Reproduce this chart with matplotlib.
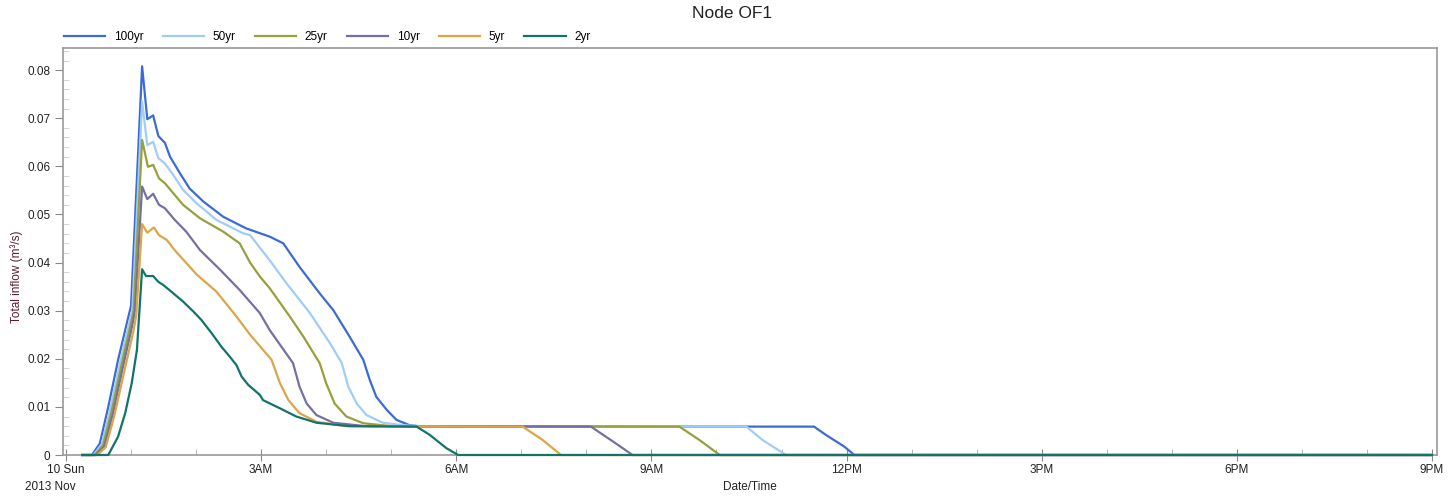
import matplotlib.pyplot as plt
from matplotlib.ticker import MultipleLocator, FuncFormatter

plt.rcParams['font.family'] = ['Liberation Sans', 'DejaVu Sans']

# hours after midnight 10 Nov 2013 -> total inflow (m3/s)
t_100 = [0.25, 0.40, 0.52, 0.65, 0.80, 0.96, 1.00, 1.17, 1.25, 1.34, 1.42, 1.52, 1.60, 1.75, 1.90,
         2.11, 2.42, 2.77, 3.13, 3.34, 3.59, 3.90, 4.11, 4.36, 4.57, 4.67, 4.77, 4.93, 5.08, 5.28,
         5.50, 11.50, 11.68, 11.97, 12.12, 21.0]
q_100 = [0, 0, 0.0024, 0.0100, 0.0197, 0.0288, 0.0310, 0.0808, 0.0698, 0.0706, 0.0663, 0.0649, 0.0620,
         0.0586, 0.0554, 0.0527, 0.0495, 0.0471, 0.0454, 0.0440, 0.0391, 0.0336, 0.0301, 0.0246,
         0.0198, 0.0156, 0.0121, 0.0094, 0.0073, 0.0062, 0.0059, 0.0059, 0.0042, 0.0017, 0, 0]

t_50 = [0.25, 0.42, 0.55, 0.68, 0.83, 0.98, 1.02, 1.17, 1.25, 1.34, 1.42, 1.52, 1.65, 1.80, 2.01,
        2.31, 2.72, 2.83, 3.13, 3.39, 3.75, 4.06, 4.24, 4.34, 4.47, 4.62, 4.87, 5.18, 5.50,
        10.46, 10.71, 11.07, 21.0]
q_50 = [0, 0, 0.0022, 0.0095, 0.0190, 0.0280, 0.0300, 0.0735, 0.0644, 0.0651, 0.0617, 0.0606, 0.0582,
        0.0551, 0.0523, 0.0489, 0.0461, 0.0457, 0.0405, 0.0357, 0.0295, 0.0232, 0.0191, 0.0142,
        0.0107, 0.0083, 0.0067, 0.0062, 0.0059, 0.0059, 0.0031, 0, 0]

t_25 = [0.25, 0.44, 0.57, 0.70, 0.85, 1.00, 1.04, 1.17, 1.26, 1.34, 1.43, 1.52, 1.65, 1.80, 2.06,
        2.42, 2.67, 2.83, 2.98, 3.13, 3.44, 3.65, 3.90, 4.00, 4.13, 4.31, 4.57, 5.00,
        9.43, 9.74, 10.05, 21.0]
q_25 = [0, 0, 0.0020, 0.0090, 0.0185, 0.0275, 0.0300, 0.0655, 0.0599, 0.0603, 0.0575, 0.0565, 0.0544,
        0.0520, 0.0492, 0.0464, 0.0440, 0.0400, 0.0371, 0.0347, 0.0288, 0.0246, 0.0191, 0.0149,
        0.0107, 0.0080, 0.0066, 0.0060, 0.0059, 0.0031, 0, 0]

t_10 = [0.25, 0.46, 0.59, 0.72, 0.87, 1.02, 1.06, 1.17, 1.25, 1.34, 1.43, 1.52, 1.67, 1.85, 2.06,
        2.37, 2.67, 2.98, 3.13, 3.49, 3.59, 3.70, 3.85, 4.11, 4.60, 8.07, 8.41, 8.71, 21.0]
q_10 = [0, 0, 0.0018, 0.0085, 0.0180, 0.0270, 0.0300, 0.0558, 0.0532, 0.0543, 0.0520, 0.0513, 0.0489,
        0.0464, 0.0426, 0.0385, 0.0343, 0.0295, 0.0260, 0.0191, 0.0142, 0.0107, 0.0083, 0.0067,
        0.0060, 0.0059, 0.0028, 0, 0]

t_5 = [0.25, 0.48, 0.61, 0.74, 0.89, 1.04, 1.08, 1.17, 1.25, 1.35, 1.43, 1.55, 1.67, 1.85, 2.01,
       2.31, 2.62, 2.83, 3.16, 3.29, 3.42, 3.59, 3.85, 4.30, 7.02, 7.33, 7.61, 21.0]
q_5 = [0, 0, 0.0016, 0.0080, 0.0170, 0.0260, 0.0290, 0.0480, 0.0462, 0.0473, 0.0457, 0.0447, 0.0426,
       0.0399, 0.0375, 0.0340, 0.0288, 0.0250, 0.0198, 0.0149, 0.0114, 0.0087, 0.0069, 0.0060,
       0.0059, 0.0031, 0, 0]

t_2 = [0.25, 0.65, 0.80, 0.91, 1.01, 1.09, 1.17, 1.23, 1.34, 1.42, 1.50, 1.65, 1.80, 1.96, 2.08,
       2.24, 2.39, 2.52, 2.62, 2.70, 2.80, 2.98, 3.03, 3.29, 3.54, 3.85, 4.36, 5.39, 5.59, 5.85,
       6.03, 21.0]
q_2 = [0, 0, 0.0038, 0.0087, 0.0149, 0.0218, 0.0386, 0.0372, 0.0372, 0.0360, 0.0353, 0.0336, 0.0319,
       0.0298, 0.0281, 0.0253, 0.0225, 0.0204, 0.0187, 0.0163, 0.0146, 0.0125, 0.0114, 0.0097,
       0.0080, 0.0067, 0.0060, 0.0059, 0.0042, 0.0014, 0, 0]

labels = ["100yr", "50yr", "25yr", "10yr", "5yr", "2yr"]
colors = ["#3b6bd6", "#a0cdf8", "#98a03c", "#7470a0", "#dca548", "#13736a"]
series = [(t_100, q_100), (t_50, q_50), (t_25, q_25), (t_10, q_10), (t_5, q_5), (t_2, q_2)]

xticks = [0, 3, 6, 9, 12, 15, 18, 21]
xticklabels = ["10 Sun", "3AM", "6AM", "9AM", "12PM", "3PM", "6PM", "9PM"]

fig = plt.figure(figsize=(14.56, 5.01), dpi=100)
ax = fig.add_axes([63/1456, 1-455/501, (1437-63)/1456, (455-48)/501])

for (t, q), lab, c in zip(series, labels, colors):
    ax.plot(t, q, color=c, lw=1.6, label=lab, clip_on=False, zorder=3)

ax.set_xlim(-0.046, 21.077)
ax.set_ylim(0, 0.0846)

ax.set_xticks(xticks)
ax.set_xticklabels(xticklabels)
ax.xaxis.set_minor_locator(MultipleLocator(1))
ax.yaxis.set_major_locator(MultipleLocator(0.01))
ax.yaxis.set_minor_locator(MultipleLocator(0.002))
ax.yaxis.set_major_formatter(FuncFormatter(lambda v, p: "0" if abs(v) < 1e-9 else f"{v:.2f}"))

ax.tick_params(axis='x', which='major', direction='inout', length=9, color='#888', labelsize=8.5,
               labelcolor='#222', pad=2)
ax.tick_params(axis='x', which='minor', direction='in', length=4, color='#aaa')
ax.tick_params(axis='y', which='major', direction='out', length=6, color='#888', labelsize=8.5,
               labelcolor='#222', pad=3)
ax.tick_params(axis='y', which='minor', direction='in', length=4, color='#ccc')

for s in ax.spines.values():
    s.set_color('#999')
    s.set_linewidth(1.2)

fig.text(0.503, 1-13/501, "Node OF1", ha='center', va='center', fontsize=12.5, color='#222')
fig.text(17/1456, 1-277/501, "Total inflow (m³/s)", rotation=90, ha='center', va='center',
         fontsize=8.5, color='#5c1a33')
fig.text(750/1456, 1-487/501, "Date/Time", ha='center', va='center', fontsize=8.5, color='#222')
fig.text(50/1456, 1-487/501, "2013 Nov", ha='center', va='center', fontsize=8.5, color='#222')

fig.legend(loc='center left', bbox_to_anchor=(64/1456, 1-37/501), ncol=6, frameon=False,
           fontsize=8.5, handlelength=3.5, handletextpad=0.75, columnspacing=1.6,
           borderpad=0, borderaxespad=0)

plt.savefig("out.png", dpi=100)
